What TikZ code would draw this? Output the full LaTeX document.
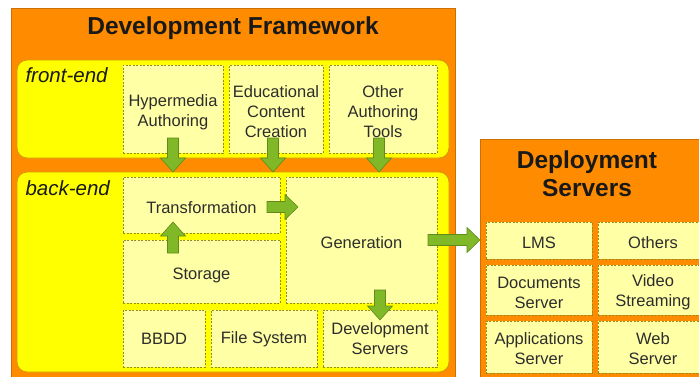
\documentclass[tikz,border=0pt]{standalone}
\usepackage{fontspec}
\setmainfont{Liberation Sans}
\usetikzlibrary{calc}
\definecolor{orng}{RGB}{255,140,0}
\definecolor{orngdark}{RGB}{205,110,0}
\definecolor{yel}{RGB}{255,255,0}
\definecolor{yeldark}{RGB}{215,150,0}
\definecolor{pale}{RGB}{255,255,165}
\definecolor{dashc}{RGB}{150,140,30}
\definecolor{grn}{RGB}{128,184,40}
\definecolor{grndark}{RGB}{95,140,25}
\definecolor{txt}{RGB}{45,45,45}
\newcommand\blkdown[2]{\path[blk] let \p1=#1,\p2=#2 in (\x1-5.5pt,\y1) -- (\x1-5.5pt,\y2+14pt) -- (\x1-12.5pt,\y2+14pt) -- (\x1,\y2) -- (\x1+12.5pt,\y2+14pt) -- (\x1+5.5pt,\y2+14pt) -- (\x1+5.5pt,\y1) -- cycle;}
\newcommand\blkup[2]{\path[blk] let \p1=#1,\p2=#2 in (\x1-5.5pt,\y1) -- (\x1-5.5pt,\y2-14pt) -- (\x1-12.5pt,\y2-14pt) -- (\x1,\y2) -- (\x1+12.5pt,\y2-14pt) -- (\x1+5.5pt,\y2-14pt) -- (\x1+5.5pt,\y1) -- cycle;}
\newcommand\blkright[2]{\path[blk] let \p1=#1,\p2=#2 in (\x1,\y1-5.5pt) -- (\x2-13pt,\y1-5.5pt) -- (\x2-13pt,\y1-12.5pt) -- (\x2,\y1) -- (\x2-13pt,\y1+12.5pt) -- (\x2-13pt,\y1+5.5pt) -- (\x1,\y1+5.5pt) -- cycle;}
% name, x, y, width, height, text shift, text
\newcommand\dotbox[7]{\node[dbox, minimum width=#4pt, minimum height=#5pt] (#1) at (#2,#3) {};
  \node[btext] (#1t) at ($(#1.center)+(0,#6)$) {#7};}
\begin{document}
\begin{tikzpicture}[x=1pt,y=-1pt,
 panel/.style={draw=orngdark, fill=orng, line width=0.8pt, anchor=north west, inner sep=0pt, outer sep=0pt},
 layer/.style={draw=yeldark, fill=yel, line width=0.8pt, rounded corners=10pt, anchor=north west, inner sep=0pt, outer sep=0pt},
 dbox/.style={draw=dashc, fill=pale, dash pattern=on 2pt off 1.5pt, line width=0.9pt, anchor=north west, inner sep=0pt, outer sep=0pt},
 btext/.style={inner sep=0pt, align=center, text=txt, font=\fontsize{16.5}{20}\selectfont},
 blk/.style={draw=grndark, fill=grn, line width=0.6pt, line join=miter},
 title/.style={font=\fontsize{24.5}{28}\selectfont\bfseries, text=black!90, align=center},
 tag/.style={font=\fontsize{20.5}{24}\selectfont\itshape, anchor=west, text=black!90}]
\useasboundingbox (0,0) rectangle (699,376);
\clip (0,0) rectangle (699,376);
\fill[white] (0,0) rectangle (699,376);
% Development framework
\node[panel, minimum width=444pt, minimum height=390pt] (devf) at (11,8) {};
\node[title] (devft) at (233,28) {Development Framework};
\node[layer, minimum width=432pt, minimum height=98pt] (frontend) at (17,60) {};
\node[tag] (fel) at (22,75) {front-end};
\node[layer, minimum width=432pt, minimum height=200pt] (backend) at (17,172) {};
\node[tag] (bel) at (22,188) {back-end};
% front-end boxes
\dotbox{hyp}{123}{65}{100}{88}{3}{Hypermedia\\Authoring}
\dotbox{edu}{229}{65}{94}{88}{3}{Educational\\Content\\Creation}
\dotbox{oth}{329}{65}{108}{88}{3}{Other\\Authoring\\Tools}
% back-end boxes
\dotbox{trans}{123}{177}{157}{56}{2.5}{Transformation}
\dotbox{stor}{123}{240}{157}{63}{3.5}{Storage}
\dotbox{gen}{286}{177}{151}{126}{2.5}{Generation}
\dotbox{bbdd}{123}{310}{82}{57}{0.5}{BBDD}
\dotbox{fsys}{211}{310}{106}{57}{0.5}{File System}
\dotbox{devs}{323}{310}{114}{57}{0.5}{Development\\Servers}
% Deployment servers
\node[panel, minimum width=240pt, minimum height=250pt] (depl) at (480,139) {};
\node[title] (deplt) at (587,174) {Deployment\\Servers};
\dotbox{lms}{486}{222}{106}{37}{2}{LMS}
\dotbox{others}{598}{222}{110}{37}{2}{Others}
\dotbox{docs}{486}{265}{106}{50}{2.5}{Documents\\Server}
\dotbox{video}{598}{265}{110}{50}{2.5}{Video\\Streaming}
\dotbox{apps}{486}{321}{106}{52}{2}{Applications\\Server}
\dotbox{web}{598}{321}{110}{52}{2}{Web\\Server}
% arrows
\blkdown{($(hyp.south)+(0,-15)$)}{(backend.north)}
\blkdown{($(edu.south)+(-3,-15)$)}{(backend.north)}
\blkdown{($(oth.south)+(-4,-15)$)}{(backend.north)}
\blkup{($(stor.north west)+(50,13)$)}{($(trans.south)+(0,-11)$)}
\blkright{($(trans.east)+(-13,2)$)}{($(gen.west)+(12,0)$)}
\blkdown{($(devs.north)+(0,-20)$)}{($(devs.north)+(0,10)$)}
\blkright{($(gen.east)+(-9,0)$)}{(depl.west)}
\end{tikzpicture}
\end{document}
